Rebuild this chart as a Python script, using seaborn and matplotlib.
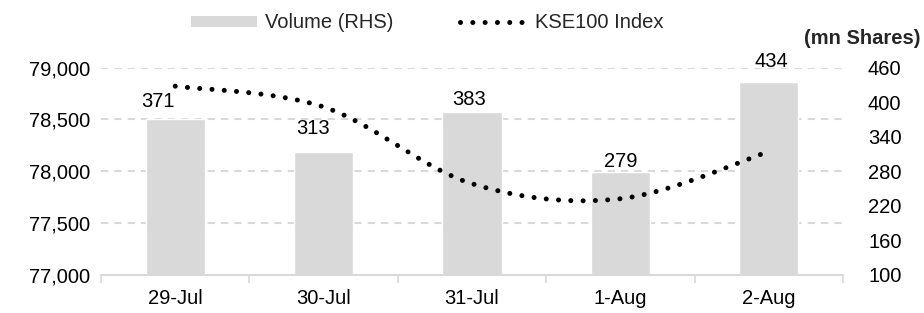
import numpy as np
import matplotlib
matplotlib.use("Agg")
import matplotlib.pyplot as plt
import seaborn as sns
from matplotlib.patches import Patch
from matplotlib.lines import Line2D

# ---- data ----
dates = ["29-Jul", "30-Jul", "31-Jul", "1-Aug", "2-Aug"]
volume = [371, 313, 383, 279, 434]
kse100 = [78820, 78620, 77880, 77735, 78190]
left_ticks = [77000, 77500, 78000, 78500, 79000]
right_ticks = [100, 160, 220, 280, 340, 400, 460]

# label offsets (pixels) for the volume labels: (dx, baseline gap)
label_offsets = [(-17, 12), (-11, 18), (-3, 7), (0, 5), (3, 15)]

sns.set_theme(style="white")
plt.rcParams["font.family"] = ["Liberation Sans", "DejaVu Sans"]
FS = 14.5
GREY = "#D9D9D9"

fig = plt.figure(figsize=(9.24, 3.13), dpi=100)
ax = fig.add_axes([101/924, 1-275/313, (843-101)/924, (275-67.5)/313])

sns.barplot(x=dates, y=volume, ax=ax, color=GREY, saturation=1, width=0.4,
            zorder=2)
ax.set_xlim(-0.5, len(dates)-0.5)
ax.set_ylim(right_ticks[0], right_ticks[-1])
ax.set_xlabel("")
ax.set_ylabel("")

ax2 = ax.twinx()
ax2.set_ylim(left_ticks[0], left_ticks[-1])

# gridlines at left ticks, drawn behind bars
r0, r1 = right_ticks[0], right_ticks[-1]
l0, l1 = left_ticks[0], left_ticks[-1]
for t in left_ticks[1:]:
    yr = r0 + (t - l0) / (l1 - l0) * (r1 - r0)
    ax.axhline(yr, color=GREY, lw=1.5, ls=(0, (3.5, 2.9)), zorder=0)

# bar axes -> right side ticks
ax.yaxis.tick_right()
ax.set_yticks(right_ticks)
ax.set_yticklabels([str(v) for v in right_ticks], fontsize=FS, ha="left")
ax.tick_params(axis="y", length=0, pad=18, colors="black")
ax2.yaxis.tick_left()
ax2.set_yticks(left_ticks)
ax2.set_yticklabels([f"{v:,}" for v in left_ticks], fontsize=FS)
ax2.tick_params(axis="y", length=0, pad=8, colors="black")

# x axis
ax.set_xticks(range(len(dates)))
ax.set_xticklabels(dates, fontsize=FS)
ax.set_xticks(np.arange(-0.5, len(dates), 1.0), minor=True)
ax.tick_params(axis="x", which="major", length=0, pad=10, colors="black")
ax.tick_params(axis="x", which="minor", length=6, width=1.2, color=GREY,
               bottom=True)
for a in (ax, ax2):
    for s in a.spines.values():
        s.set_visible(False)
ax.spines["bottom"].set_visible(True)
ax.spines["bottom"].set_color(GREY)
ax.spines["bottom"].set_linewidth(1.5)

# bar value labels
for i, (v, (dx, dy)) in enumerate(zip(volume, label_offsets)):
    ax.annotate(str(v), xy=(i, v), xytext=(dx, dy), textcoords="offset pixels",
                ha="center", va="baseline", fontsize=FS, color="black",
                zorder=5)

# smoothed line (Bezier with Catmull-Rom style control points)
xs = np.arange(len(kse100), dtype=float)
ys = np.array(kse100, dtype=float)
P = np.column_stack([xs, ys])
n = len(P)
pts = []
tt = np.linspace(0, 1, 60)
for i in range(n-1):
    p0 = P[i]; p3 = P[i+1]
    pm = P[i-1] if i > 0 else P[i]
    pp = P[i+2] if i+2 < n else P[i+1]
    c1 = p0 + (p3 - pm) / 6.0
    c2 = p3 - (pp - p0) / 6.0
    seg = ((1-tt)**3)[:, None]*p0 + (3*(1-tt)**2*tt)[:, None]*c1 + \
          (3*(1-tt)*tt**2)[:, None]*c2 + (tt**3)[:, None]*p3
    if i > 0:
        seg = seg[1:]
    pts.append(seg)
curve = np.vstack(pts)
DOT = (0, (0.01, 2.45))
ax2.plot(curve[:, 0], curve[:, 1], color="black", lw=3.6, ls=DOT,
         dash_capstyle="round", zorder=3)

# legend
handles = [Patch(facecolor=GREY, edgecolor="none", label="Volume (RHS)"),
           Line2D([], [], color="black", lw=3.6, ls=DOT, dash_capstyle="round",
                  label="KSE100 Index")]
fig.legend(handles=handles, loc="center", bbox_to_anchor=(427/924, 1-23/313),
           ncol=2, frameon=False, fontsize=FS, handlelength=3.3,
           handleheight=0.5, handletextpad=0.4, columnspacing=3.3,
           borderpad=0, borderaxespad=0)

fig.text(921/924, 1-39/313, "(mn Shares)", ha="right", va="center",
         fontsize=FS, fontweight="bold")

fig.savefig("out.png", dpi=100)
